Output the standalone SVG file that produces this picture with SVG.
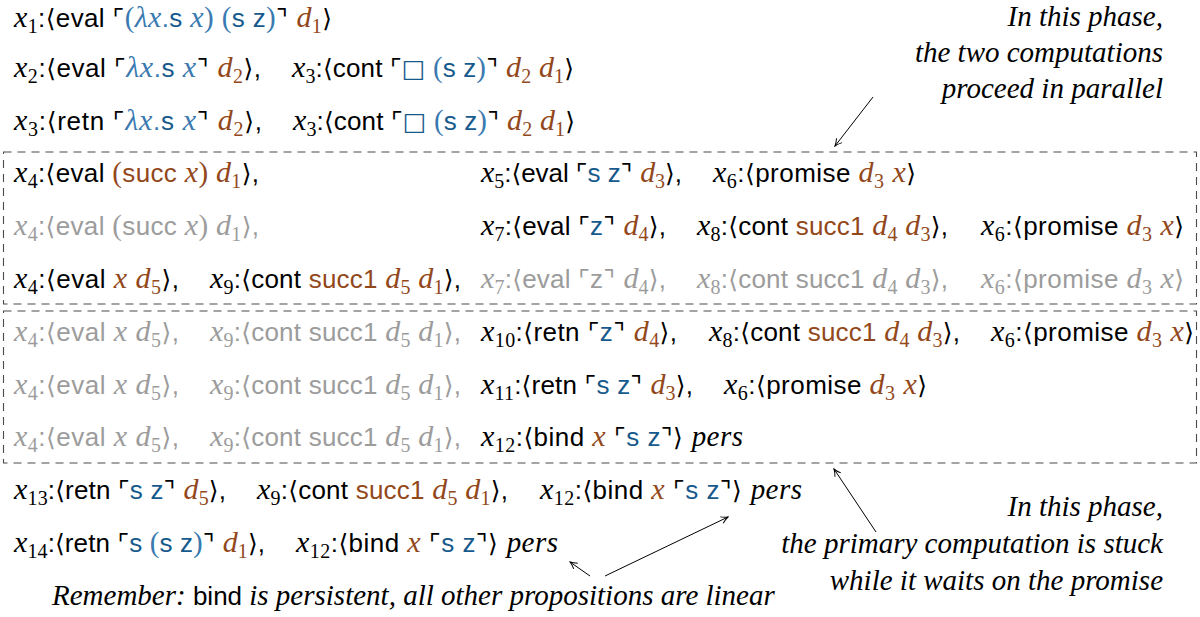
<svg xmlns="http://www.w3.org/2000/svg" width="1200" height="617" viewBox="0 0 1200 617">
<defs>
<style>
.row text{font-family:"Liberation Sans",Arial,sans-serif;font-size:26px;fill:#000}
.v{font-family:"Liberation Serif",serif;font-style:italic;font-size:30px}
.r{font-family:"Liberation Serif",serif;font-size:29px}
.k{font-family:"Liberation Sans",Arial,sans-serif;font-size:26px}
.b{font-family:"DejaVu Sans","Noto Sans",sans-serif;font-size:25px}
.n{font-family:"Liberation Serif",serif;font-size:20px}
.br{fill:#93481b}
.c1{fill:#3a7ab0}
.c2{fill:#16598c}
text.g, text.g tspan{fill:#9c9c9c}
.t{font-family:"Liberation Serif",serif;font-style:italic;font-size:29px;fill:#000}
.box{fill:none;stroke:#4a4a4a;stroke-width:1.1;stroke-dasharray:8 6}
.arr{fill:none;stroke:#000;stroke-width:1;marker-end:url(#ah)}
</style>
<marker id="ah" viewBox="-9 -5 10 10" refX="0" refY="0" markerWidth="10" markerHeight="10" markerUnits="userSpaceOnUse" orient="auto">
<path d="M-7,-3.5 Q-3,-0.8 0,0 Q-3,0.8 -7,3.5" fill="none" stroke="#000" stroke-width="1"/>
</marker>
</defs>
<rect width="1200" height="617" fill="#fff"/>

<g id="phases">
<rect class="box" x="3.5" y="152" width="1193" height="152"/>
<rect class="box" x="3.5" y="311" width="1193" height="152"/>
</g>

<g id="row1" class="row">
<text x="14" y="27" textLength="318" lengthAdjust="spacing"><tspan class="v">x</tspan><tspan class="n" dy="6">1</tspan><tspan class="k" dy="-6">:</tspan><tspan class="b">⟨</tspan><tspan>eval </tspan><tspan class="b">⌜</tspan><tspan class="r c1">(</tspan><tspan class="v c1">λx</tspan><tspan class="k c1">.</tspan><tspan class="k c2">s </tspan><tspan class="v c1">x</tspan><tspan class="r c1">) (</tspan><tspan class="k c2">s z</tspan><tspan class="r c1">)</tspan><tspan class="b">⌝ </tspan><tspan class="v br">d</tspan><tspan class="n br" dy="6">1</tspan><tspan class="b" dy="-6">⟩</tspan></text>
</g>

<g id="row2" class="row">
<text x="14" y="77" textLength="247" lengthAdjust="spacing"><tspan class="v">x</tspan><tspan class="n" dy="6">2</tspan><tspan class="k" dy="-6">:</tspan><tspan class="b">⟨</tspan><tspan>eval </tspan><tspan class="b">⌜</tspan><tspan class="v c1">λx</tspan><tspan class="k c1">.</tspan><tspan class="k c2">s </tspan><tspan class="v c1">x</tspan><tspan class="b">⌝ </tspan><tspan class="v br">d</tspan><tspan class="n br" dy="6">2</tspan><tspan class="b" dy="-6">⟩</tspan><tspan>,</tspan></text>
<text x="292" y="77" textLength="282" lengthAdjust="spacing"><tspan class="v">x</tspan><tspan class="n" dy="6">3</tspan><tspan class="k" dy="-6">:</tspan><tspan class="b">⟨</tspan><tspan>cont </tspan><tspan class="b">⌜</tspan><tspan class="b c2">□</tspan><tspan class="r c1"> (</tspan><tspan class="k c2">s z</tspan><tspan class="r c1">)</tspan><tspan class="b">⌝ </tspan><tspan class="v br">d</tspan><tspan class="n br" dy="6">2</tspan><tspan class="v br" dy="-6"> d</tspan><tspan class="n br" dy="6">1</tspan><tspan class="b" dy="-6">⟩</tspan></text>
</g>

<g id="row3" class="row">
<text x="14" y="130" textLength="248" lengthAdjust="spacing"><tspan class="v">x</tspan><tspan class="n" dy="6">3</tspan><tspan class="k" dy="-6">:</tspan><tspan class="b">⟨</tspan><tspan>retn </tspan><tspan class="b">⌜</tspan><tspan class="v c1">λx</tspan><tspan class="k c1">.</tspan><tspan class="k c2">s </tspan><tspan class="v c1">x</tspan><tspan class="b">⌝ </tspan><tspan class="v br">d</tspan><tspan class="n br" dy="6">2</tspan><tspan class="b" dy="-6">⟩</tspan><tspan>,</tspan></text>
<text x="293" y="130" textLength="282" lengthAdjust="spacing"><tspan class="v">x</tspan><tspan class="n" dy="6">3</tspan><tspan class="k" dy="-6">:</tspan><tspan class="b">⟨</tspan><tspan>cont </tspan><tspan class="b">⌜</tspan><tspan class="b c2">□</tspan><tspan class="r c1"> (</tspan><tspan class="k c2">s z</tspan><tspan class="r c1">)</tspan><tspan class="b">⌝ </tspan><tspan class="v br">d</tspan><tspan class="n br" dy="6">2</tspan><tspan class="v br" dy="-6"> d</tspan><tspan class="n br" dy="6">1</tspan><tspan class="b" dy="-6">⟩</tspan></text>
</g>

<g id="row4" class="row">
<text x="14" y="182" textLength="245" lengthAdjust="spacing"><tspan class="v">x</tspan><tspan class="n" dy="6">4</tspan><tspan class="k" dy="-6">:</tspan><tspan class="b">⟨</tspan><tspan>eval </tspan><tspan class="r br">(</tspan><tspan class="k br">succ </tspan><tspan class="v br">x</tspan><tspan class="r br">) </tspan><tspan class="v br">d</tspan><tspan class="n br" dy="6">1</tspan><tspan class="b" dy="-6">⟩</tspan><tspan>,</tspan></text>
<text x="481" y="182" textLength="201" lengthAdjust="spacing"><tspan class="v">x</tspan><tspan class="n" dy="6">5</tspan><tspan class="k" dy="-6">:</tspan><tspan class="b">⟨</tspan><tspan>eval </tspan><tspan class="b">⌜</tspan><tspan class="k c2">s z</tspan><tspan class="b">⌝ </tspan><tspan class="v br">d</tspan><tspan class="n br" dy="6">3</tspan><tspan class="b" dy="-6">⟩</tspan><tspan>,</tspan></text>
<text x="713" y="182" textLength="203" lengthAdjust="spacing"><tspan class="v">x</tspan><tspan class="n" dy="6">6</tspan><tspan class="k" dy="-6">:</tspan><tspan class="b">⟨</tspan><tspan>promise </tspan><tspan class="v br">d</tspan><tspan class="n br" dy="6">3</tspan><tspan class="v br" dy="-6"> x</tspan><tspan class="b">⟩</tspan></text>
</g>

<g id="row5" class="row">
<text class="g" x="14" y="235" textLength="245" lengthAdjust="spacing"><tspan class="v">x</tspan><tspan class="n" dy="6">4</tspan><tspan class="k" dy="-6">:</tspan><tspan class="b">⟨</tspan><tspan>eval </tspan><tspan class="r">(</tspan><tspan class="k">succ </tspan><tspan class="v">x</tspan><tspan class="r">) </tspan><tspan class="v">d</tspan><tspan class="n" dy="6">1</tspan><tspan class="b" dy="-6">⟩</tspan><tspan>,</tspan></text>
<text x="481" y="235" textLength="185" lengthAdjust="spacing"><tspan class="v">x</tspan><tspan class="n" dy="6">7</tspan><tspan class="k" dy="-6">:</tspan><tspan class="b">⟨</tspan><tspan>eval </tspan><tspan class="b">⌜</tspan><tspan class="k c2">z</tspan><tspan class="b">⌝ </tspan><tspan class="v br">d</tspan><tspan class="n br" dy="6">4</tspan><tspan class="b" dy="-6">⟩</tspan><tspan>,</tspan></text>
<text x="697" y="235" textLength="251" lengthAdjust="spacing"><tspan class="v">x</tspan><tspan class="n" dy="6">8</tspan><tspan class="k" dy="-6">:</tspan><tspan class="b">⟨</tspan><tspan>cont </tspan><tspan class="br">succ1 </tspan><tspan class="v br">d</tspan><tspan class="n br" dy="6">4</tspan><tspan class="v br" dy="-6"> d</tspan><tspan class="n br" dy="6">3</tspan><tspan class="b" dy="-6">⟩</tspan><tspan>,</tspan></text>
<text x="981" y="235" textLength="203" lengthAdjust="spacing"><tspan class="v">x</tspan><tspan class="n" dy="6">6</tspan><tspan class="k" dy="-6">:</tspan><tspan class="b">⟨</tspan><tspan>promise </tspan><tspan class="v br">d</tspan><tspan class="n br" dy="6">3</tspan><tspan class="v br" dy="-6"> x</tspan><tspan class="b">⟩</tspan></text>
</g>

<g id="row6" class="row">
<text x="14" y="288" textLength="165" lengthAdjust="spacing"><tspan class="v">x</tspan><tspan class="n" dy="6">4</tspan><tspan class="k" dy="-6">:</tspan><tspan class="b">⟨</tspan><tspan>eval </tspan><tspan class="v br">x d</tspan><tspan class="n br" dy="6">5</tspan><tspan class="b" dy="-6">⟩</tspan><tspan>,</tspan></text>
<text x="210" y="288" textLength="251" lengthAdjust="spacing"><tspan class="v">x</tspan><tspan class="n" dy="6">9</tspan><tspan class="k" dy="-6">:</tspan><tspan class="b">⟨</tspan><tspan>cont </tspan><tspan class="br">succ1 </tspan><tspan class="v br">d</tspan><tspan class="n br" dy="6">5</tspan><tspan class="v br" dy="-6"> d</tspan><tspan class="n br" dy="6">1</tspan><tspan class="b" dy="-6">⟩</tspan><tspan>,</tspan></text>
<text class="g" x="481" y="288" textLength="185" lengthAdjust="spacing"><tspan class="v">x</tspan><tspan class="n" dy="6">7</tspan><tspan class="k" dy="-6">:</tspan><tspan class="b">⟨</tspan><tspan>eval </tspan><tspan class="b">⌜</tspan><tspan class="k">z</tspan><tspan class="b">⌝ </tspan><tspan class="v">d</tspan><tspan class="n" dy="6">4</tspan><tspan class="b" dy="-6">⟩</tspan><tspan>,</tspan></text>
<text class="g" x="697" y="288" textLength="251" lengthAdjust="spacing"><tspan class="v">x</tspan><tspan class="n" dy="6">8</tspan><tspan class="k" dy="-6">:</tspan><tspan class="b">⟨</tspan><tspan>cont succ1 </tspan><tspan class="v">d</tspan><tspan class="n" dy="6">4</tspan><tspan class="v" dy="-6"> d</tspan><tspan class="n" dy="6">3</tspan><tspan class="b" dy="-6">⟩</tspan><tspan>,</tspan></text>
<text class="g" x="981" y="288" textLength="203" lengthAdjust="spacing"><tspan class="v">x</tspan><tspan class="n" dy="6">6</tspan><tspan class="k" dy="-6">:</tspan><tspan class="b">⟨</tspan><tspan>promise </tspan><tspan class="v">d</tspan><tspan class="n" dy="6">3</tspan><tspan class="v" dy="-6"> x</tspan><tspan class="b">⟩</tspan></text>
</g>

<g id="row7" class="row">
<text class="g" x="14" y="341" textLength="165" lengthAdjust="spacing"><tspan class="v">x</tspan><tspan class="n" dy="6">4</tspan><tspan class="k" dy="-6">:</tspan><tspan class="b">⟨</tspan><tspan>eval </tspan><tspan class="v">x d</tspan><tspan class="n" dy="6">5</tspan><tspan class="b" dy="-6">⟩</tspan><tspan>,</tspan></text>
<text class="g" x="210" y="341" textLength="251" lengthAdjust="spacing"><tspan class="v">x</tspan><tspan class="n" dy="6">9</tspan><tspan class="k" dy="-6">:</tspan><tspan class="b">⟨</tspan><tspan>cont succ1 </tspan><tspan class="v">d</tspan><tspan class="n" dy="6">5</tspan><tspan class="v" dy="-6"> d</tspan><tspan class="n" dy="6">1</tspan><tspan class="b" dy="-6">⟩</tspan><tspan>,</tspan></text>
<text x="481" y="341" textLength="196" lengthAdjust="spacing"><tspan class="v">x</tspan><tspan class="n" dy="6">10</tspan><tspan class="k" dy="-6">:</tspan><tspan class="b">⟨</tspan><tspan>retn </tspan><tspan class="b">⌜</tspan><tspan class="k c2">z</tspan><tspan class="b">⌝ </tspan><tspan class="v br">d</tspan><tspan class="n br" dy="6">4</tspan><tspan class="b" dy="-6">⟩</tspan><tspan>,</tspan></text>
<text x="709" y="341" textLength="251" lengthAdjust="spacing"><tspan class="v">x</tspan><tspan class="n" dy="6">8</tspan><tspan class="k" dy="-6">:</tspan><tspan class="b">⟨</tspan><tspan>cont </tspan><tspan class="br">succ1 </tspan><tspan class="v br">d</tspan><tspan class="n br" dy="6">4</tspan><tspan class="v br" dy="-6"> d</tspan><tspan class="n br" dy="6">3</tspan><tspan class="b" dy="-6">⟩</tspan><tspan>,</tspan></text>
<text x="991" y="341" textLength="203" lengthAdjust="spacing"><tspan class="v">x</tspan><tspan class="n" dy="6">6</tspan><tspan class="k" dy="-6">:</tspan><tspan class="b">⟨</tspan><tspan>promise </tspan><tspan class="v br">d</tspan><tspan class="n br" dy="6">3</tspan><tspan class="v br" dy="-6"> x</tspan><tspan class="b">⟩</tspan></text>
</g>

<g id="row8" class="row">
<text class="g" x="14" y="394" textLength="165" lengthAdjust="spacing"><tspan class="v">x</tspan><tspan class="n" dy="6">4</tspan><tspan class="k" dy="-6">:</tspan><tspan class="b">⟨</tspan><tspan>eval </tspan><tspan class="v">x d</tspan><tspan class="n" dy="6">5</tspan><tspan class="b" dy="-6">⟩</tspan><tspan>,</tspan></text>
<text class="g" x="210" y="394" textLength="251" lengthAdjust="spacing"><tspan class="v">x</tspan><tspan class="n" dy="6">9</tspan><tspan class="k" dy="-6">:</tspan><tspan class="b">⟨</tspan><tspan>cont succ1 </tspan><tspan class="v">d</tspan><tspan class="n" dy="6">5</tspan><tspan class="v" dy="-6"> d</tspan><tspan class="n" dy="6">1</tspan><tspan class="b" dy="-6">⟩</tspan><tspan>,</tspan></text>
<text x="481" y="394" textLength="212" lengthAdjust="spacing"><tspan class="v">x</tspan><tspan class="n" dy="6">11</tspan><tspan class="k" dy="-6">:</tspan><tspan class="b">⟨</tspan><tspan>retn </tspan><tspan class="b">⌜</tspan><tspan class="k c2">s z</tspan><tspan class="b">⌝ </tspan><tspan class="v br">d</tspan><tspan class="n br" dy="6">3</tspan><tspan class="b" dy="-6">⟩</tspan><tspan>,</tspan></text>
<text x="724" y="394" textLength="203" lengthAdjust="spacing"><tspan class="v">x</tspan><tspan class="n" dy="6">6</tspan><tspan class="k" dy="-6">:</tspan><tspan class="b">⟨</tspan><tspan>promise </tspan><tspan class="v br">d</tspan><tspan class="n br" dy="6">3</tspan><tspan class="v br" dy="-6"> x</tspan><tspan class="b">⟩</tspan></text>
</g>

<g id="row9" class="row">
<text class="g" x="14" y="446" textLength="165" lengthAdjust="spacing"><tspan class="v">x</tspan><tspan class="n" dy="6">4</tspan><tspan class="k" dy="-6">:</tspan><tspan class="b">⟨</tspan><tspan>eval </tspan><tspan class="v">x d</tspan><tspan class="n" dy="6">5</tspan><tspan class="b" dy="-6">⟩</tspan><tspan>,</tspan></text>
<text class="g" x="210" y="446" textLength="251" lengthAdjust="spacing"><tspan class="v">x</tspan><tspan class="n" dy="6">9</tspan><tspan class="k" dy="-6">:</tspan><tspan class="b">⟨</tspan><tspan>cont succ1 </tspan><tspan class="v">d</tspan><tspan class="n" dy="6">5</tspan><tspan class="v" dy="-6"> d</tspan><tspan class="n" dy="6">1</tspan><tspan class="b" dy="-6">⟩</tspan><tspan>,</tspan></text>
<text x="481" y="446" textLength="262" lengthAdjust="spacing"><tspan class="v">x</tspan><tspan class="n" dy="6">12</tspan><tspan class="k" dy="-6">:</tspan><tspan class="b">⟨</tspan><tspan>bind </tspan><tspan class="v br">x </tspan><tspan class="b">⌜</tspan><tspan class="k c2">s z</tspan><tspan class="b">⌝⟩ </tspan><tspan class="t">pers</tspan></text>
</g>

<g id="row10" class="row">
<text x="14" y="499" textLength="212" lengthAdjust="spacing"><tspan class="v">x</tspan><tspan class="n" dy="6">13</tspan><tspan class="k" dy="-6">:</tspan><tspan class="b">⟨</tspan><tspan>retn </tspan><tspan class="b">⌜</tspan><tspan class="k c2">s z</tspan><tspan class="b">⌝ </tspan><tspan class="v br">d</tspan><tspan class="n br" dy="6">5</tspan><tspan class="b" dy="-6">⟩</tspan><tspan>,</tspan></text>
<text x="257" y="499" textLength="251" lengthAdjust="spacing"><tspan class="v">x</tspan><tspan class="n" dy="6">9</tspan><tspan class="k" dy="-6">:</tspan><tspan class="b">⟨</tspan><tspan>cont </tspan><tspan class="br">succ1 </tspan><tspan class="v br">d</tspan><tspan class="n br" dy="6">5</tspan><tspan class="v br" dy="-6"> d</tspan><tspan class="n br" dy="6">1</tspan><tspan class="b" dy="-6">⟩</tspan><tspan>,</tspan></text>
<text x="540" y="499" textLength="262" lengthAdjust="spacing"><tspan class="v">x</tspan><tspan class="n" dy="6">12</tspan><tspan class="k" dy="-6">:</tspan><tspan class="b">⟨</tspan><tspan>bind </tspan><tspan class="v br">x </tspan><tspan class="b">⌜</tspan><tspan class="k c2">s z</tspan><tspan class="b">⌝⟩ </tspan><tspan class="t">pers</tspan></text>
</g>

<g id="row11" class="row">
<text x="14" y="552" textLength="251" lengthAdjust="spacing"><tspan class="v">x</tspan><tspan class="n" dy="6">14</tspan><tspan class="k" dy="-6">:</tspan><tspan class="b">⟨</tspan><tspan>retn </tspan><tspan class="b">⌜</tspan><tspan class="k c2">s </tspan><tspan class="r c1">(</tspan><tspan class="k c2">s z</tspan><tspan class="r c1">)</tspan><tspan class="b">⌝ </tspan><tspan class="v br">d</tspan><tspan class="n br" dy="6">1</tspan><tspan class="b" dy="-6">⟩</tspan><tspan>,</tspan></text>
<text x="296" y="552" textLength="262" lengthAdjust="spacing"><tspan class="v">x</tspan><tspan class="n" dy="6">12</tspan><tspan class="k" dy="-6">:</tspan><tspan class="b">⟨</tspan><tspan>bind </tspan><tspan class="v br">x </tspan><tspan class="b">⌜</tspan><tspan class="k c2">s z</tspan><tspan class="b">⌝⟩ </tspan><tspan class="t">pers</tspan></text>
</g>

<g id="note-parallel">
<text class="t" x="1163" y="26" text-anchor="end">In this phase,</text>
<text class="t" x="1163" y="62" text-anchor="end">the two computations</text>
<text class="t" x="1163" y="98" text-anchor="end">proceed in parallel</text>
</g>

<g id="note-stuck">
<text class="t" x="1163" y="516" text-anchor="end">In this phase,</text>
<text class="t" x="1163" y="553" text-anchor="end">the primary computation is stuck</text>
<text class="t" x="1163" y="590" text-anchor="end">while it waits on the promise</text>
</g>

<g id="note-remember">
<text class="t" x="52" y="605"><tspan>Remember:</tspan><tspan class="k" font-style="normal"> bind </tspan><tspan>is persistent, all other propositions are linear</tspan></text>
</g>

<g id="connectors">
<path class="arr" d="M873,97 L835,146"/>
<path class="arr" d="M876,532 L834,469"/>
<path class="arr" d="M590,576 L570,562"/>
<path class="arr" d="M605,576 L728,517"/>
</g>
</svg>
